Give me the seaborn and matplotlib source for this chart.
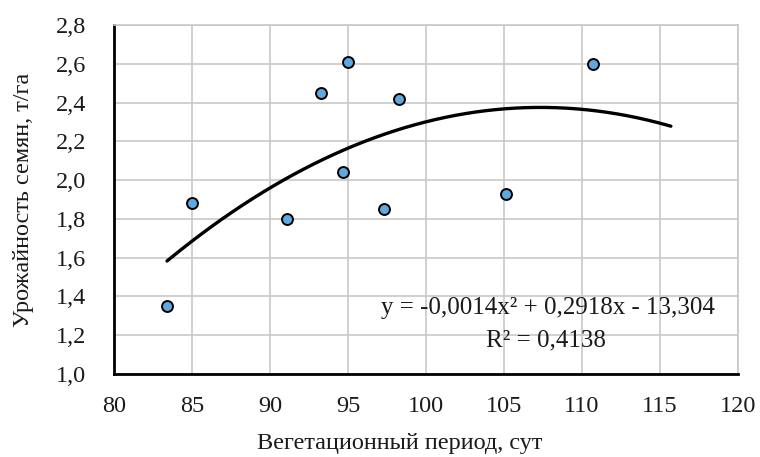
import numpy as np
import pandas as pd
import matplotlib
matplotlib.use("Agg")
import matplotlib.pyplot as plt
import seaborn as sns

# Data
veg_period = [83.4, 85.0, 91.1, 93.3, 94.7, 95.0, 97.3, 98.3, 105.1, 110.7]
yield_t_ha = [1.35, 1.88, 1.80, 2.45, 2.04, 2.61, 1.85, 2.42, 1.93, 2.60]
x_ticks = [80, 85, 90, 95, 100, 105, 110, 115, 120]
y_ticks = [1.0, 1.2, 1.4, 1.6, 1.8, 2.0, 2.2, 2.4, 2.6, 2.8]
eq_text = "y = -0,0014x² + 0,2918x - 13,304"
r2_text = "R² = 0,4138"
forecast_forward = 5.0

sns.set_theme(style="white")
plt.rcParams['font.family'] = ['Liberation Serif', 'DejaVu Serif']

df = pd.DataFrame({"x": veg_period, "y": yield_t_ha})

fig = plt.figure(figsize=(7.6, 4.57), dpi=100)
ax = fig.add_axes([0.150, 0.1816, 0.821, 0.7634])

# trend line (polynomial order 2)
coef = np.polyfit(df["x"], df["y"], 2)
xs = np.linspace(min(veg_period), max(veg_period) + forecast_forward, 200)
trend = pd.DataFrame({"x": xs, "y": np.polyval(coef, xs)})
sns.lineplot(data=trend, x="x", y="y", ax=ax, color="black", linewidth=2.4, zorder=3)

sns.scatterplot(data=df, x="x", y="y", ax=ax, s=62, color="#5fa8e0",
                edgecolor="black", linewidth=1.4, zorder=4)

ax.set_xlim(80, 120)
ax.set_ylim(1.0, 2.8)
ax.set_xticks(x_ticks)
ax.set_yticks(y_ticks)
ax.set_xticklabels([str(t) for t in x_ticks], fontsize=17.5)
ax.set_yticklabels([f"{t:.1f}".replace(".", ",") for t in y_ticks], fontsize=17.5)
ax.grid(True, color="#c8c8c8", linewidth=1.2)
ax.set_axisbelow(True)
for s in ["top", "right"]:
    ax.spines[s].set_color("#c8c8c8")
    ax.spines[s].set_linewidth(1.2)
for s in ["left", "bottom"]:
    ax.spines[s].set_color("black")
    ax.spines[s].set_linewidth(2.0)
ax.tick_params(axis="x", length=0, pad=16, colors="#1a1a1a")
ax.tick_params(axis="y", length=0, pad=20, colors="#1a1a1a")

ax.set_xlabel("Вегетационный период, сут", fontsize=17.5, color="#1a1a1a")
ax.set_ylabel("Урожайность семян, т/га", fontsize=17.5, color="#1a1a1a")
ax.xaxis.set_label_coords(0.458, -0.17)
ax.yaxis.set_label_coords(-0.128, 0.5)

ax.text(0.695, 0.19, eq_text, transform=ax.transAxes, ha="center", va="center",
        fontsize=18, color="#1a1a1a")
ax.text(0.693, 0.097, r2_text, transform=ax.transAxes, ha="center", va="center",
        fontsize=18, color="#1a1a1a")

fig.savefig("out.png", dpi=100, facecolor="white")
